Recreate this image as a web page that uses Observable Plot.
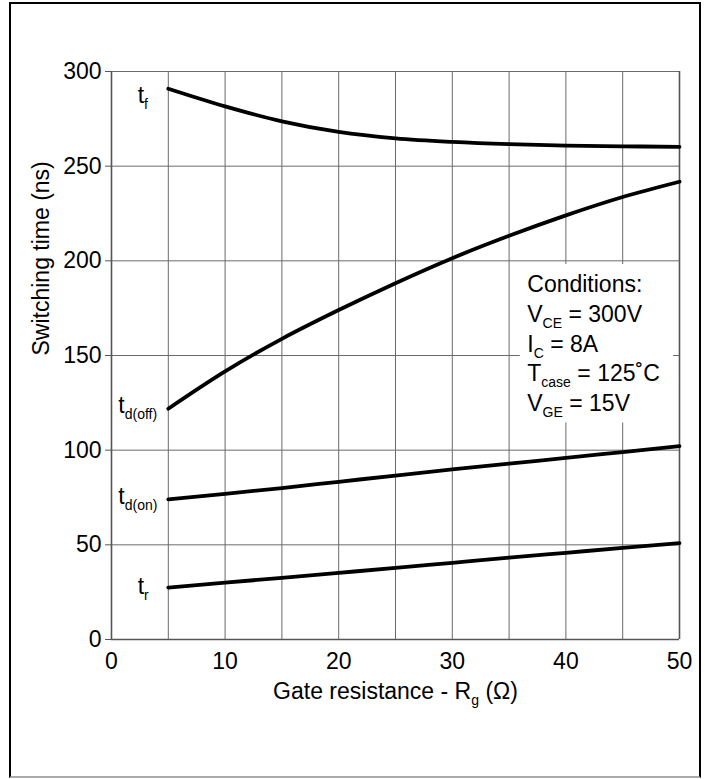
<!DOCTYPE html>
<html>
<head>
<meta charset="utf-8">
<script src="https://cdn.jsdelivr.net/npm/d3@7"></script>
<script src="https://cdn.jsdelivr.net/npm/@observablehq/plot@0.6"></script>
<style>
  html, body { margin: 0; padding: 0; background: #fff; }
  #wrap { position: relative; width: 705px; height: 779px; }
  #frame { position: absolute; left: 9px; top: 2px; width: 692px; height: 776px; box-sizing: border-box;
           border: 2.5px solid #000; border-bottom: 2px solid #aaa; pointer-events: none; }
</style>
</head>
<body>
<div id="wrap"><div id="chart"></div><div id="frame"></div></div>
<script>
// Gate resistance (Ω)
const rg = [5, 10, 15, 20, 25, 30, 35, 40, 45, 50];
// Switching times (ns)
const tf    = [290.9, 281.6, 273.7, 268.1, 264.7, 262.8, 261.6, 260.9, 260.5, 260.2];
const tdoff = [121.9, 141.6, 158.8, 174.0, 188.2, 201.4, 213.2, 224.0, 233.7, 241.8];
const tdon  = [74.0, 76.9, 80.0, 83.3, 86.6, 89.8, 92.9, 95.9, 99.0, 102.1];
const tr    = [27.4, 30.0, 32.6, 35.2, 37.8, 40.5, 43.2, 45.8, 48.4, 50.9];

// Axes ticks
const xTicks = [0, 10, 20, 30, 40, 50];
const xGrid = [0, 5, 10, 15, 20, 25, 30, 35, 40, 45, 50];
const yTicks = [0, 50, 100, 150, 200, 250, 300];

// Curve labels (anchor in data coords)
const curveLabels = ["t_{f}", "t_{d(off)}", "t_{d(on)}", "t_{r}"];
const curveLabelX = [2.3, 0.6, 0.6, 2.3];
const curveLabelY = [283.6, 119.4, 71.8, 23.8];

// Conditions block
const condLines = ["Conditions:", "V_{CE} = 300V", "I_{C} = 8A", "T_{case} = 125˚C", "V_{GE} = 15V"];
const condX = 36.6;
const condY = [183.8, 167.7, 151.9, 136.3, 120.7];

const xTitle = "Gate resistance - R_{g} (Ω)";
const yTitle = "Switching time (ns)";

const series = [
  {name: "tf", v: tf}, {name: "tdoff", v: tdoff}, {name: "tdon", v: tdon}, {name: "tr", v: tr}
];
const rows = series.flatMap(s => s.v.map((y, i) => ({s: s.name, x: rg[i], y})));
const labelRows = curveLabels.map((t, i) => ({t, x: curveLabelX[i], y: curveLabelY[i]}));
const condRows = condLines.map((t, i) => ({t, x: condX, y: condY[i]}));
const xMax = xGrid[xGrid.length - 1];

const FS = 23;
const SUB_FS = 14;
const SUB_SHIFT = 6;
const plot = Plot.plot({
  width: 705,
  height: 779,
  marginLeft: 111,
  marginRight: 26,
  marginTop: 71,
  marginBottom: 140,
  style: {fontFamily: "'Liberation Sans', Arial, Helvetica, sans-serif", fontSize: FS + "px", color: "#000", background: "#fff"},
  x: {domain: [0, 50]},
  y: {domain: [0, 300]},
  marks: [
    Plot.gridX(xGrid, {stroke: "#6a6a6a", strokeOpacity: 1, strokeWidth: 1}),
    Plot.gridY(yTicks, {stroke: "#6a6a6a", strokeOpacity: 1, strokeWidth: 1}),
    Plot.ruleX([0, 50], {stroke: "#555", strokeWidth: 1.6}),
    Plot.ruleY([0], {stroke: "#555", strokeWidth: 1.6}),
    Plot.axisY({ticks: yTicks, tickSize: 6, tickPadding: 4, label: null, stroke: "#555"}),
    Plot.axisX({ticks: xTicks, tickSize: 0, tickPadding: 13, label: null}),
    Plot.line(rows, {x: "x", y: "y", z: "s", stroke: "#000", strokeWidth: 3.8, curve: "monotone-x"}),
    Plot.text(labelRows, {x: "x", y: "y", text: "t", textAnchor: "start", lineAnchor: "bottom", fill: "#000"}),
    // white box behind the conditions block, derived from its anchor rows
    Plot.rect([0], {x1: () => condX, x2: () => xMax, y1: () => d3.min(condY), y2: () => d3.max(condY),
                    insetLeft: -7, insetRight: 6, insetTop: -27, insetBottom: -12, fill: "#fff"}),
    Plot.text(condRows, {x: "x", y: "y", text: "t", textAnchor: "start", lineAnchor: "bottom", fill: "#000"}),
    Plot.text([xTitle], {frameAnchor: "bottom", dy: 59, lineAnchor: "bottom", fill: "#000"}),
    Plot.text([yTitle], {frameAnchor: "left", rotate: -90, dx: -63, lineAnchor: "bottom", fill: "#000"})
  ]
});

// Turn "_{...}" markup into subscript tspans
function applySubscripts(svg) {
  d3.select(svg).selectAll("text").each(function() {
    const t = this.textContent;
    if (!t.includes("_{")) return;
    const sel = d3.select(this);
    sel.selectAll("*").remove();
    sel.text(null);
    const re = /_\{([^}]*)\}/g;
    let last = 0, m, shifted = false;
    while ((m = re.exec(t))) {
      if (m.index > last) {
        const ts = sel.append("tspan").text(t.slice(last, m.index));
        if (shifted) { ts.attr("dy", -SUB_SHIFT); shifted = false; }
      }
      const sub = sel.append("tspan").attr("font-size", SUB_FS + "px").text(m[1]);
      sub.attr("dy", shifted ? 0 : SUB_SHIFT);
      shifted = true;
      last = re.lastIndex;
    }
    if (last < t.length) {
      const ts = sel.append("tspan").text(t.slice(last));
      if (shifted) ts.attr("dy", -SUB_SHIFT);
    }
  });
}
applySubscripts(plot);
document.getElementById("chart").appendChild(plot);
</script>
</body>
</html>
